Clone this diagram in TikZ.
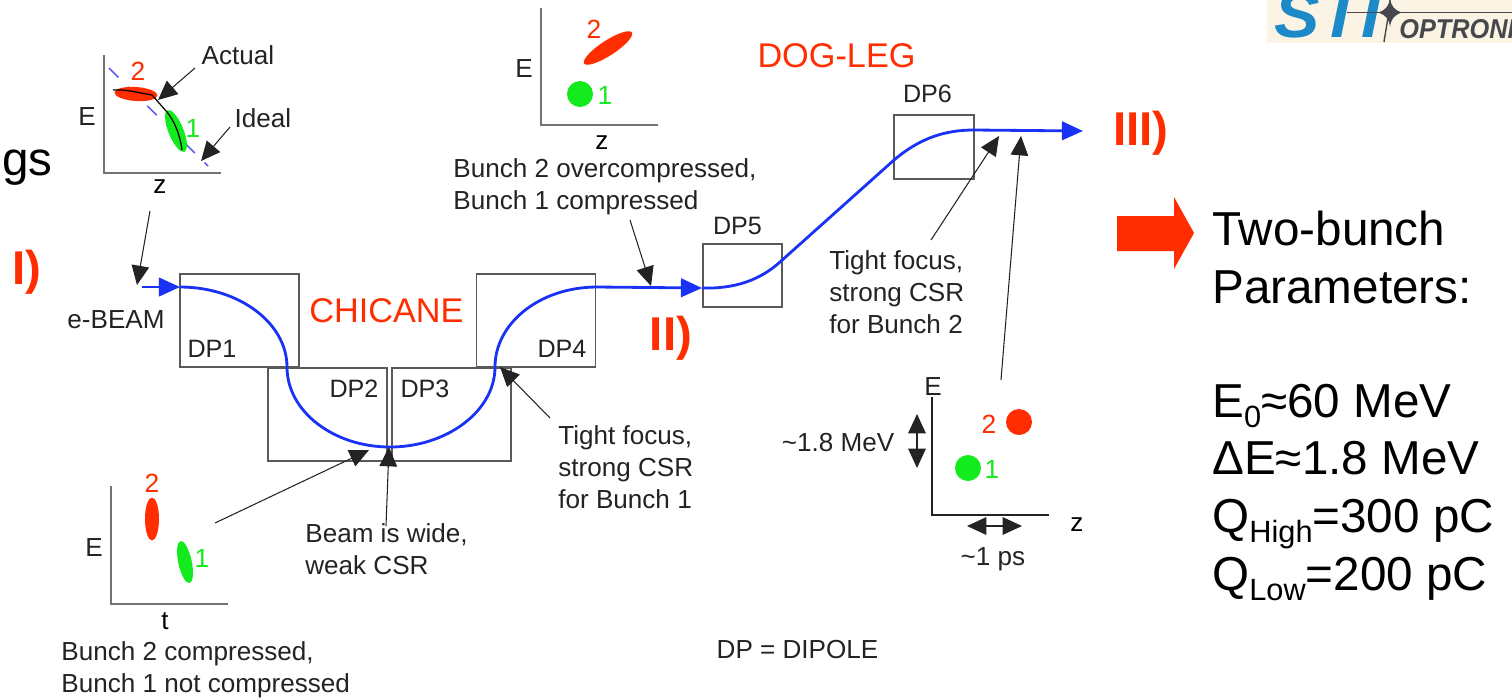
\documentclass[tikz,border=0pt]{standalone}
\usepackage{fontspec}
\setmainfont{Liberation Sans}
\usetikzlibrary{shapes.geometric, arrows.meta}
\definecolor{BeamBlue}{RGB}{25,50,245}
\definecolor{DashBlue}{RGB}{95,95,240}
\definecolor{BunchRed}{RGB}{255,45,0}
\definecolor{BunchGreen}{RGB}{20,235,30}
\definecolor{LogoBlue}{RGB}{28,138,200}
\definecolor{LogoGrey}{RGB}{70,72,75}
\definecolor{LogoBack}{RGB}{251,243,228}
\definecolor{InkGrey}{RGB}{35,35,35}
\newcommand{\lowtxt}[1]{\raisebox{-0.22em}{\fontsize{17.5}{18}\selectfont #1}}
\begin{document}
\begin{tikzpicture}[x=0.02cm, y=-0.02cm,
    dpbox/.style={rectangle, draw=black!65, line width=0.75pt, inner sep=0pt},
    tag/.style={font=\fontsize{14.85}{18}\selectfont, text=InkGrey, align=left, inner sep=0pt},
    dptag/.style={font=\fontsize{14.3}{18}\selectfont, text=InkGrey, inner sep=0pt},
    title/.style={font=\fontsize{19.5}{22}\selectfont, text=BunchRed, inner sep=0pt},
    stage/.style={font=\fontsize{27}{30}\selectfont\bfseries, text=BunchRed, inner sep=0pt},
    big/.style={font=\fontsize{27.1}{30}\selectfont, anchor=base west, inner sep=0pt},
    num/.style={font=\fontsize{15}{18}\selectfont, inner sep=0pt},
    axis/.style={draw=black!55, line width=0.8pt},
    blob/.style={ellipse, inner sep=0pt},
    beam/.style={BeamBlue, line width=1.6pt},
    beamarr/.style={BeamBlue, line width=1.6pt, -{Triangle[length=12pt, width=10.5pt]}},
    arr/.style={InkGrey, line width=0.6pt, -{Triangle[length=11pt, width=10pt]}},
    dbl/.style={InkGrey, line width=0.6pt, {Triangle[length=11pt, width=10pt]}-{Triangle[length=11pt, width=10pt]}}
  ]
  \useasboundingbox (0,0) rectangle (1512,698);

  % Logo, cut by the page
  \begin{scope}
    \clip (1267,0) rectangle (1512,43);
    \fill[LogoBack] (1267,0) rectangle (1512,43);
    \node[font=\fontsize{36.5}{38}\selectfont\bfseries\itshape, text=LogoBlue, anchor=base west, inner sep=0pt, xscale=1.06]
      (sti) at (1274,37) {STI};
    \node[font=\fontsize{15.5}{18}\selectfont\bfseries\itshape, text=LogoGrey, anchor=base west, inner sep=0pt, xscale=0.93]
      (optron) at (1399,38) {OPTRONI};
    \draw[LogoGrey, line width=0.7pt] (1347,12.5) -- (1512,12.5);
    \draw[LogoGrey, line width=0.8pt] (1390,0) .. controls (1389,15) and (1386,28) .. (1384,42);
    \fill[LogoGrey] (1390,-2) .. controls (1391,6) and (1394,10) .. (1402,12.5)
      .. controls (1394,15) and (1391,19) .. (1390,27)
      .. controls (1389,19) and (1386,15) .. (1378,12.5)
      .. controls (1386,10) and (1389,6) .. (1390,-2) -- cycle;
  \end{scope}

  % Dipoles
  \node[dpbox, minimum width=2.38cm, minimum height=1.86cm] (dp1) at (239.5,320.5) {};
  \node[dpbox, minimum width=2.38cm, minimum height=1.86cm] (dp2) at (327.5,414.5) {};
  \node[dpbox, minimum width=2.38cm, minimum height=1.86cm] (dp3) at (451.5,414.5) {};
  \node[dpbox, minimum width=2.38cm, minimum height=1.86cm] (dp4) at (536,320.5) {};
  \node[dpbox, minimum width=1.58cm, minimum height=1.26cm] (dp5) at (742.5,275.5) {};
  \node[dpbox, minimum width=1.60cm, minimum height=1.28cm] (dp6) at (934,147) {};
  \node[dptag] (dp1txt) at (212,349) {DP1};
  \node[dptag] (dp2txt) at (354,389) {DP2};
  \node[dptag] (dp3txt) at (425,389) {DP3};
  \node[dptag] (dp4txt) at (562,349) {DP4};
  \node[dptag] (dp5txt) at (737.5,226) {DP5};
  \node[dptag] (dp6txt) at (927.5,94) {DP6};

  % Beam path
  \coordinate (bin) at (142,287);
  \coordinate (b1) at (180,287);
  \coordinate (b2) at (287,367);
  \coordinate (b3) at (390,447);
  \coordinate (b4) at (495,367);
  \coordinate (b5) at (597,287);
  \coordinate (b6) at (702,288);
  \coordinate (b7) at (780,262);
  \coordinate (b8) at (894,160);
  \coordinate (b9) at (974,130);
  \coordinate (bout) at (1083,131);
  \draw[beamarr] (bin) -- (b1);
  \draw[beam] (b1) .. controls (239,287) and (287,323) .. (b2)
    .. controls (287,411) and (333,447) .. (b3)
    .. controls (447,447) and (495,411) .. (b4)
    .. controls (495,323) and (540,287) .. (b5);
  \draw[beamarr] (b5) -- (b6);
  \draw[beam] (b6) .. controls (735,289) and (760,280) .. (b7) -- (b8)
    .. controls (920,138) and (945,130) .. (b9);
  \draw[beamarr] (b9) -- (bout);

  \node[title] (chicane) at (386.5,311) {CHICANE};
  \node[title] (dogleg) at (836.5,56) {DOG-LEG};
  \node[stage] (st1) at (27,272) {I)};
  \node[stage] (st2) at (671,338) {II)};
  \node[stage] (st3) at (1141,133) {III)};
  \node[tag] (ebeam) at (116,320) {e-BEAM};
  \node[tag, anchor=east, font=\fontsize{27.1}{30}\selectfont, text=black] (ngs) at (53,168) {ngs};

  % Plot at the entrance
  \draw[axis] (104,55) -- (104,173) -- (221,173);
  \draw[DashBlue, line width=0.9pt, dash pattern=on 7.6pt off 7.7pt] (109,68) -- (208,166);
  \node[blob, fill=BunchRed, minimum width=0.86cm, minimum height=0.28cm, rotate=-4] (e2) at (136,94) {};
  \node[blob, fill=BunchGreen, minimum width=0.90cm, minimum height=0.30cm, rotate=-68] (e1) at (176,131) {};
  \draw[black, line width=0.7pt] (113,90) .. controls (125,89) and (140,93) .. (152,95)
    -- (167,112) .. controls (175,122) and (180,135) .. (182,150);
  \node[num, text=BunchRed] (e2txt) at (138,71) {2};
  \node[num, text=BunchGreen] (e1txt) at (193,128) {1};
  \node[tag] (eE) at (87,117) {E};
  \node[tag, text=black] (eZ) at (160,187) {z};
  \node[tag] (actual) at (238,55) {Actual};
  \node[tag] (ideal) at (263,118) {Ideal};
  \coordinate (actualtip) at (158,100);
  \coordinate (actualend) at (195,68);
  \coordinate (idealtip) at (201,161);
  \coordinate (idealend) at (230,127);
  \coordinate (entryend) at (150,211);
  \coordinate (entrytip) at (137,285);
  \draw[arr] (actualend) -- (actualtip);
  \draw[arr] (idealend) -- (idealtip);
  \draw[arr] (entryend) -- (entrytip);

  % Plot after the chicane, top
  \draw[axis] (541,8) -- (541,125) -- (658,125);
  \node[blob, fill=BunchRed, minimum width=1.14cm, minimum height=0.30cm, rotate=33] (o2) at (608,48) {};
  \node[blob, fill=BunchGreen, minimum width=0.52cm, minimum height=0.52cm] (o1) at (580,94) {};
  \node[num, text=BunchRed] (o2txt) at (594,29) {2};
  \node[num, text=BunchGreen] (o1txt) at (605,95) {1};
  \node[tag] (oE) at (524,69) {E};
  \node[tag, text=black] (oZ) at (602,143) {z};
  \node[tag, anchor=west] (overtxt) at (453,187) {Bunch 2 overcompressed,\\[0.1pt]Bunch 1 compressed};
  \coordinate (overend) at (630,220);
  \coordinate (overtip) at (651,286);
  \draw[arr] (overend) -- (overtip);

  % Plot below the chicane
  \draw[axis] (111,486) -- (111,604) -- (228,604);
  \node[blob, fill=BunchRed, minimum width=0.28cm, minimum height=0.86cm] (c2) at (152,519) {};
  \node[blob, fill=BunchGreen, minimum width=0.27cm, minimum height=0.86cm, rotate=12] (c1) at (185,562) {};
  \node[num, text=BunchRed] (c2txt) at (152,483) {2};
  \node[num, text=BunchGreen] (c1txt) at (202,558) {1};
  \node[tag] (cE) at (94,548) {E};
  \node[tag, text=black] (cT) at (165,621) {t};
  \node[tag, anchor=west] (comptxt) at (61,670) {Bunch 2 compressed,\\[0.1pt]Bunch 1 not compressed};
  \coordinate (compend) at (215,523);
  \coordinate (comptip) at (369,450);
  \draw[arr] (compend) -- (comptip);

  \node[tag, anchor=west] (widetxt) at (305,549) {Beam is wide,\\[0.1pt]weak CSR};
  \coordinate (wideend) at (386,526);
  \coordinate (widetip) at (389,447);
  \draw[arr] (wideend) -- (widetip);

  \node[tag, anchor=west] (csr1txt) at (558,467) {Tight focus,\\[0.1pt]strong CSR\\[0.1pt]for Bunch 1};
  \coordinate (csr1end) at (550,418);
  \coordinate (csr1tip) at (500,367);
  \draw[arr] (csr1end) -- (csr1tip);

  \node[tag, anchor=west] (csr2txt) at (829,292) {Tight focus,\\[0.1pt]strong CSR\\[0.1pt]for Bunch 2};
  \coordinate (csr2end) at (931,240);
  \coordinate (csr2tip) at (999,136);
  \draw[arr] (csr2end) -- (csr2tip);

  % Plot at the exit
  \draw[InkGrey, line width=0.7pt] (932,397) -- (932,515) -- (1049,515);
  \node[blob, fill=BunchRed, minimum width=0.52cm, minimum height=0.52cm] (x2) at (1019,422) {};
  \node[blob, fill=BunchGreen, minimum width=0.52cm, minimum height=0.52cm] (x1) at (968,468) {};
  \node[num, text=BunchRed] (x2txt) at (989,424) {2};
  \node[num, text=BunchGreen] (x1txt) at (992,469) {1};
  \node[tag] (xE) at (933,387) {E};
  \node[tag, text=black] (xZ) at (1077,525) {z};
  \node[tag] (mevtxt) at (838,443) {\textasciitilde1.8 MeV};
  \node[tag] (pstxt) at (993,559) {\textasciitilde1 ps};
  \coordinate (mevtop) at (917,414);
  \coordinate (mevbot) at (917,468);
  \coordinate (psleft) at (967,526);
  \coordinate (psright) at (1022,526);
  \draw[dbl] (mevtop) -- (mevbot);
  \draw[dbl] (psleft) -- (psright);
  \coordinate (exitend) at (1001,380);
  \coordinate (exittip) at (1021,136);
  \draw[arr] (exitend) -- (exittip);

  \node[tag] (dipole) at (797.5,650) {DP = DIPOLE};

  % Parameters
  \fill[BunchRed] (1117,216) -- (1174,216) -- (1174,197) -- (1194,233) -- (1174,269)
    -- (1174,251) -- (1117,251) -- cycle;
  \node[big] (par1) at (1212,245) {Two-bunch};
  \node[big] (par2) at (1212,303) {Parameters:};
  \node[big] (par3) at (1212,417) {E\lowtxt{0}≈60 MeV};
  \node[big] (par4) at (1212,474) {ΔE≈1.8 MeV};
  \node[big] (par5) at (1212,532) {Q\lowtxt{High}=300 pC};
  \node[big] (par6) at (1212,590) {Q\lowtxt{Low}=200 pC};
\end{tikzpicture}
\end{document}
